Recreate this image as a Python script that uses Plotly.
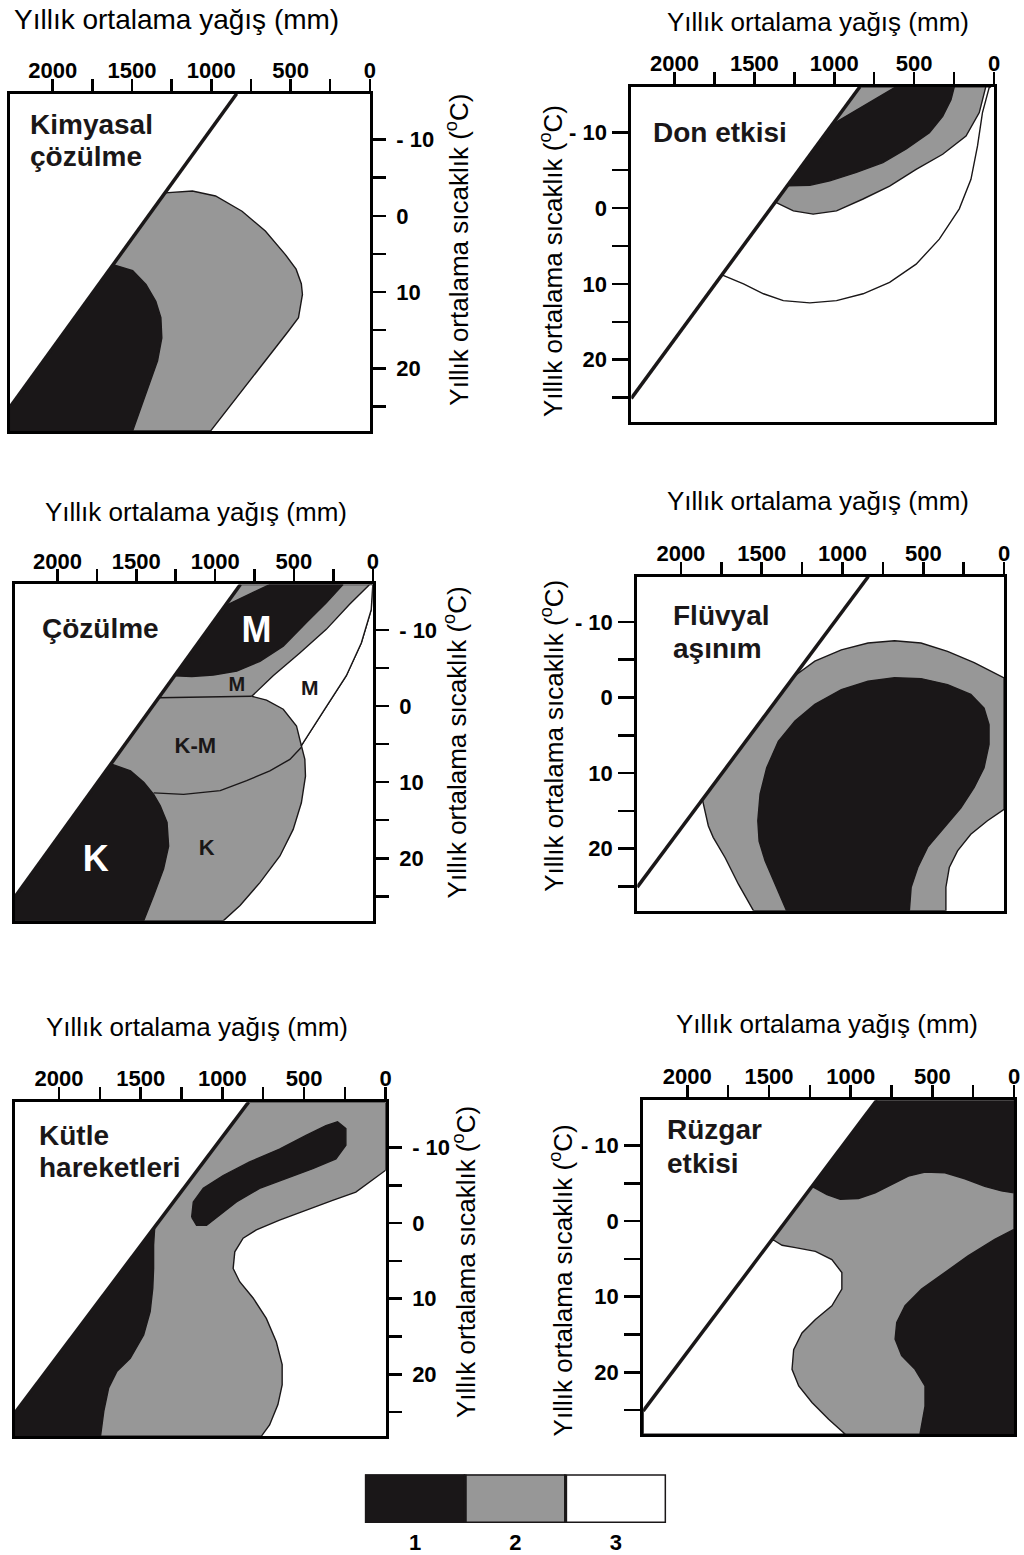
import plotly.graph_objects as go

W, H = 1024, 1555
FONT = "Liberation Sans, Arial, Helvetica, sans-serif"
BLACK = "#1a1718"
GRAY = "#979797"
WHITE = "#ffffff"

# ---------------- axes / ticks ----------------
X_RANGE = [2270, 0]
Y_RANGE = [28.2, -16]
PRECIP_TICKS = [2000, 1500, 1000, 500, 0]
PRECIP_LABELS = ["2000", "1500", "1000", "500", "0"]
PRECIP_MINOR = [1750, 1250, 750, 250]
TEMP_TICKS = [-10, 0, 10, 20]
TEMP_LABELS = ["- 10", "0", "10", "20"]
TEMP_MINOR = [-5, 5, 15, 25]
X_TITLE = "Yıllık ortalama yağış (mm)"
Y_TITLE = "Yıllık ortalama sıcaklık (<sup>o</sup>C)"

# climatic limit line (precipitation mm, temperature C)
LIMIT_PRECIP = [840, 2270]
LIMIT_TEMP = [-16, 25.1]

# ---------------- panel 1: Kimyasal çözülme ----------------
P1_GRAY_P = [1292, 2270, 2270, 1004, 513, 450, 425, 432, 465, 534, 659, 806, 973, 1119, 1292]
P1_GRAY_T = [-3.0, 25.1, 28.2, 28.2, 15.1, 13.35, 10.3, 8.9, 7.0, 5.05, 2.0, -0.6, -2.6, -3.25, -3.0]
P1_BLACK_P = [1620, 1496, 1412, 1350, 1318, 1312, 1339, 1391, 1454, 1496, 2270, 2270, 1620]
P1_BLACK_T = [6.4, 7.2, 9.0, 11.2, 13.35, 16.0, 19.0, 22.1, 25.6, 28.2, 28.2, 25.1, 6.4]

# ---------------- panel 2: Don etkisi ----------------
P2_WHITE_P = [1703, 1568, 1443, 1319, 1153, 986, 820, 654, 488, 343, 218, 145, 104, 73, 31, 20, 840, 1703]
P2_WHITE_T = [8.8, 10.0, 11.3, 12.2, 12.5, 12.2, 11.3, 9.8, 7.4, 4.1, 0.1, -3.8, -8.2, -12.6, -15.9, -16, -16, 8.8]
P2_GRAY_P = [1369, 1256, 1132, 986, 820, 654, 488, 322, 176, 93, 52, 840, 1369]
P2_GRAY_T = [-0.8, 0.36, 0.8, 0.36, -1.2, -2.9, -5.1, -7.1, -9.5, -12.6, -16, -16, -0.8]
P2_BLACK_P = [1012, 613, 249, 270, 322, 405, 550, 696, 862, 1028, 1153, 1295, 1012]
P2_BLACK_T = [-11.05, -16, -16, -14.3, -12.1, -9.95, -7.8, -6.0, -4.7, -3.6, -3.0, -2.93, -11.05]

# ---------------- panel 3: Çözülme ----------------
P3_GRAY_P = [840, 2270, 2270, 947, 842, 716, 589, 505, 453, 427, 431, 453, 442, 305, 168, 73, 10, 0, 840]
P3_GRAY_T = [-16, 25.1, 28.2, 28.2, 26.2, 23.2, 19.7, 16.2, 12.7, 9.2, 7.0, 5.2, 4.8, 0.4, -4.0, -8.3, -12.7, -16, -16]
P3_WHITE_P = [768, 632, 463, 295, 147, 20, 0, 10, 73, 168, 305, 442, 453, 484, 568, 674, 768]
P3_WHITE_T = [-1.3, -4.0, -7.0, -10.1, -13.4, -16, -16, -12.7, -8.3, -4.0, 0.4, 4.8, 5.2, 2.6, 0.4, -0.8, -1.3]
P3_BLACKM_P = [937, 653, 189, 295, 421, 568, 716, 863, 1011, 1148, 1258, 937]
P3_BLACKM_T = [-13.2, -16, -16, -13.6, -11.0, -7.9, -5.9, -4.6, -4.1, -3.9, -4.0, -13.2]
P3_BLACKK_P = [1661, 1537, 1453, 1390, 1348, 1305, 1295, 1327, 1390, 1453, 2270, 2270, 1661]
P3_BLACKK_T = [7.6, 8.5, 10.0, 11.6, 13.1, 15.3, 18.4, 21.4, 24.9, 28.2, 28.2, 25.1, 7.6]
P3_SEP1_P = [1359, 1053, 768]
P3_SEP1_T = [-1.1, -1.25, -1.3]
P3_SEP2_P = [1390, 1200, 968, 800, 653, 526, 453]
P3_SEP2_T = [11.4, 11.6, 11.1, 9.8, 8.5, 7.0, 5.4]
P3_LABELS = ["M", "M", "M", "K-M", "K", "K"]
P3_LABEL_P = [737, 863, 400, 1126, 1053, 1758]
P3_LABEL_T = [-9.65, -2.65, -2.2, 5.4, 18.8, 20.5]
P3_LABEL_COLOR = ["white", BLACK, BLACK, BLACK, BLACK, "white"]
P3_LABEL_SIZE = [36, 20, 21, 22, 22, 36]

# ---------------- panel 4: Flüvyal aşınım ----------------
P4_GRAY_P = [1299, 1171, 1007, 842, 678, 514, 350, 185, 0, 0, 103, 206, 288, 339, 360, 360,
             1551, 1644, 1726, 1800, 1830, 1850, 1867, 1299]
P4_GRAY_T = [-2.8, -4.8, -6.3, -7.2, -7.5, -7.2, -6.1, -4.6, -2.6, 14.8, 16.3, 18.1, 20.3, 22.5, 25.1, 28.2,
             28.2, 24.7, 21.2, 18.5, 17.0, 15.2, 13.5, -2.8]
P4_BLACK_P = [1346, 1418, 1479, 1516, 1524, 1510, 1469, 1397, 1294, 1171, 1007, 842, 678, 514, 350, 206,
              124, 93, 93, 124, 185, 267, 370, 473, 534, 575, 586, 1346]
P4_BLACK_T = [28.2, 24.7, 21.6, 19.0, 16.3, 12.8, 9.3, 5.8, 3.1, 0.9, -1.05, -2.15, -2.6, -2.5, -1.7, -0.4,
              1.4, 3.6, 6.2, 9.3, 11.9, 14.6, 17.2, 19.8, 22.5, 25.1, 28.2, 28.2]

# ---------------- panel 5: Kütle hareketleri ----------------
P5_GRAY_P = [840, 0, 0, 82, 183, 325, 488, 650, 792, 873, 924, 934, 894, 812, 731, 670, 634, 634,
             660, 711, 762, 2270, 2270, 840]
P5_GRAY_T = [-16, -16, -7.0, -5.7, -4.1, -3.0, -1.7, -0.4, 0.9, 2.0, 3.8, 6.0, 7.75, 9.9, 12.6, 15.7, 18.7, 21.4,
             24.0, 26.7, 28.2, 28.2, 25.1, -16]
P5_BLACK_P = [1414, 1421, 1421, 1426, 1442, 1482, 1564, 1645, 1696, 1726, 1746, 2270, 2270, 1414]
P5_BLACK_T = [0.5, 2.9, 6.0, 8.6, 11.7, 14.8, 17.9, 19.6, 21.8, 24.9, 28.2, 28.2, 25.1, 0.5]
P5_BLOB_P = [1188, 1178, 1117, 995, 833, 650, 488, 366, 295, 244, 244, 305, 447, 609, 772, 914, 1015,
             1097, 1158, 1188]
P5_BLOB_T = [-0.8, -2.8, -4.6, -6.3, -8.1, -9.8, -11.6, -12.9, -13.4, -12.5, -10.3, -8.5, -7.2, -5.9, -4.6,
             -2.8, -1.05, 0.3, 0.3, -0.8]

# ---------------- panel 6: Rüzgar etkisi ----------------
P6_BLACK_P = [840, 0, 0, 2270, 2270, 840]
P6_BLACK_T = [-16, -16, 28.2, 28.2, 25.1, -16]
P6_GRAY_P = [1237, 1145, 1064, 952, 850, 749, 647, 545, 423, 301, 179, 77, 0, 0, 118, 281, 423, 566, 667,
             718, 728, 688, 606, 545, 545, 570, 576, 2270, 2270, 1237]
P6_GRAY_T = [-4.6, -3.5, -2.9, -3.0, -3.75, -4.85, -5.95, -6.5, -6.4, -5.6, -4.6, -4.0, -3.75, 1.1, 2.4, 4.6,
             6.8, 9.0, 11.2, 13.4, 15.6, 17.8, 19.6, 21.8, 24.5, 27.1, 28.2, 28.2, 25.1, -4.6]
P6_WHITE_P = [1480, 1420, 1338, 1216, 1115, 1054, 1054, 1115, 1216, 1298, 1349, 1359, 1318, 1237, 1135,
              1033, 2270, 2270, 1480]
P6_WHITE_T = [2.4, 3.2, 3.5, 4.0, 5.1, 6.8, 9.0, 11.2, 13.0, 14.8, 17.0, 19.6, 21.8, 24.0, 26.2,
              28.2, 28.2, 25.1, 2.4]

# ---------------- legend ----------------
LEGEND_CLASSES = ["1", "2", "3"]
LEGEND_VALUES = [1, 1, 1]
LEGEND_COLORS = [BLACK, GRAY, WHITE]

PANELS = {
    1: dict(fills=[(P1_GRAY_P, P1_GRAY_T, GRAY), (P1_BLACK_P, P1_BLACK_T, BLACK)], lines=[]),
    2: dict(fills=[(P2_WHITE_P, P2_WHITE_T, WHITE), (P2_GRAY_P, P2_GRAY_T, GRAY),
                   (P2_BLACK_P, P2_BLACK_T, BLACK)], lines=[]),
    3: dict(fills=[(P3_GRAY_P, P3_GRAY_T, GRAY), (P3_WHITE_P, P3_WHITE_T, WHITE),
                   (P3_BLACKM_P, P3_BLACKM_T, BLACK), (P3_BLACKK_P, P3_BLACKK_T, BLACK)],
            lines=[(P3_SEP1_P, P3_SEP1_T), (P3_SEP2_P, P3_SEP2_T)]),
    4: dict(fills=[(P4_GRAY_P, P4_GRAY_T, GRAY), (P4_BLACK_P, P4_BLACK_T, BLACK)], lines=[]),
    5: dict(fills=[(P5_GRAY_P, P5_GRAY_T, GRAY), (P5_BLACK_P, P5_BLACK_T, BLACK),
                   (P5_BLOB_P, P5_BLOB_T, BLACK)], lines=[]),
    6: dict(fills=[(P6_BLACK_P, P6_BLACK_T, BLACK), (P6_GRAY_P, P6_GRAY_T, GRAY),
                   (P6_WHITE_P, P6_WHITE_T, WHITE)], lines=[]),
}

# layout positions (pixels): left, top, right, bottom of each frame
BOX = {1: (10, 94, 372, 432), 2: (635, 87, 1000, 423), 3: (15, 586, 375, 923),
       4: (641, 578, 1010, 913), 5: (15, 1105, 388, 1440), 6: (647, 1103, 1020, 1438)}
XTITLE_POS = {1: (178, 20), 2: (823, 22), 3: (197, 513), 4: (823, 502), 5: (198, 1030), 6: (832, 1027)}
XTITLE_SIZE = {1: 28, 2: 26, 3: 26, 4: 26, 5: 26, 6: 26}
YTITLE_POS = {1: (460, 250), 2: (555, 262), 3: (458, 744), 4: (555, 738), 5: (468, 1265), 6: (565, 1284)}
PANEL_TEXT = {1: [("Kimyasal", 28, 125), ("çözülme", 28, 157)],
              2: [("Don etkisi", 655, 133)],
              3: [("Çözülme", 40, 630)],
              4: [("Flüvyal", 675, 617), ("aşınım", 675, 650)],
              5: [("Kütle", 37, 1138), ("hareketleri", 37, 1171)],
              6: [("Rüzgar", 669, 1132), ("etkisi", 669, 1166)]}

fig = go.Figure()
layout = dict(width=W, height=H, autosize=False, margin=dict(l=0, r=0, t=0, b=0, pad=0),
              paper_bgcolor="white", plot_bgcolor="white", showlegend=False, bargap=0,
              font=dict(family=FONT, color="black"))
annotations = []

for i in range(1, 7):
    sfx = "" if i == 1 else str(i)
    xr, yr = "x" + sfx, "y" + sfx
    for px, tx, col in PANELS[i]["fills"]:
        fig.add_trace(go.Scatter(x=px, y=tx, mode="lines", fill="toself", fillcolor=col,
                                 line=dict(color=BLACK, width=1.4), hoverinfo="skip",
                                 xaxis=xr, yaxis=yr))
    for px, tx in PANELS[i]["lines"]:
        fig.add_trace(go.Scatter(x=px, y=tx, mode="lines", line=dict(color=BLACK, width=1.4),
                                 hoverinfo="skip", xaxis=xr, yaxis=yr))
    fig.add_trace(go.Scatter(x=LIMIT_PRECIP, y=LIMIT_TEMP, mode="lines",
                             line=dict(color=BLACK, width=3.5), hoverinfo="skip", xaxis=xr, yaxis=yr))
    if i == 3:
        for lab, lp, lt, lc, ls in zip(P3_LABELS, P3_LABEL_P, P3_LABEL_T, P3_LABEL_COLOR, P3_LABEL_SIZE):
            fig.add_trace(go.Scatter(x=[lp], y=[lt], mode="text", text=[lab],
                                     textfont=dict(family=FONT, size=ls, color=lc, weight="bold"),
                                     hoverinfo="skip", xaxis=xr, yaxis=yr))

    L, T, R, B = BOX[i]
    yside = "right" if i % 2 == 1 else "left"
    ylen = 13 if yside == "right" else 16
    layout["xaxis" + sfx] = dict(
        domain=[L / W, R / W], range=X_RANGE, side="top", anchor=yr,
        tickmode="array", tickvals=PRECIP_TICKS, ticktext=PRECIP_LABELS,
        ticks="outside", ticklen=12, tickwidth=2.5, tickcolor="black",
        minor=dict(tickmode="array", tickvals=PRECIP_MINOR, ticks="outside", ticklen=12,
                   tickwidth=2.5, tickcolor="black", showgrid=False),
        showline=True, linewidth=3, linecolor="black", mirror=True,
        showgrid=False, zeroline=False, fixedrange=True, ticklabelstandoff=-8,
        tickfont=dict(family=FONT, size=22, color="black", weight="bold"))
    layout["yaxis" + sfx] = dict(
        domain=[1 - B / H, 1 - T / H], range=Y_RANGE, side=yside, anchor=xr,
        tickmode="array", tickvals=TEMP_TICKS, ticktext=TEMP_LABELS,
        ticks="outside", ticklen=ylen, tickwidth=2.5, tickcolor="black",
        minor=dict(tickmode="array", tickvals=TEMP_MINOR, ticks="outside", ticklen=ylen,
                   tickwidth=2.5, tickcolor="black", showgrid=False),
        showline=True, linewidth=3, linecolor="black", mirror=True,
        showgrid=False, zeroline=False, fixedrange=True,
        ticklabelstandoff=6 if yside == "right" else 1,
        tickfont=dict(family=FONT, size=22, color="black", weight="bold"))

    xtx, xty = XTITLE_POS[i]
    annotations.append(dict(text=X_TITLE, x=xtx / W, y=1 - xty / H, xref="paper", yref="paper",
                            showarrow=False, xanchor="center", yanchor="middle",
                            font=dict(family=FONT, size=XTITLE_SIZE[i], color="black")))
    ytx, yty = YTITLE_POS[i]
    annotations.append(dict(text=Y_TITLE, x=ytx / W, y=1 - yty / H, xref="paper", yref="paper",
                            showarrow=False, xanchor="center", yanchor="middle", textangle=-90,
                            font=dict(family=FONT, size=26, color="black")))
    for txt, tx0, ty0 in PANEL_TEXT[i]:
        annotations.append(dict(text=txt, x=tx0 / W, y=1 - ty0 / H, xref="paper", yref="paper",
                                showarrow=False, xanchor="left", yanchor="middle",
                                font=dict(family=FONT, size=28, color=BLACK, weight="bold")))

# legend strip
fig.add_trace(go.Bar(x=LEGEND_CLASSES, y=LEGEND_VALUES, width=1,
                     marker=dict(color=LEGEND_COLORS, line=dict(color=BLACK, width=3)),
                     hoverinfo="skip", xaxis="x7", yaxis="y7"))
layout["xaxis7"] = dict(domain=[367 / W, 670 / W], anchor="y7", type="category", side="bottom",
                        showline=False, ticks="", showgrid=False, zeroline=False, fixedrange=True,
                        ticklabelstandoff=4,
                        tickfont=dict(family=FONT, size=22, color="black", weight="bold"))
layout["yaxis7"] = dict(domain=[1 - 1527 / H, 1 - 1478 / H], anchor="x7", range=[0, 1],
                        visible=False, fixedrange=True)

layout["annotations"] = annotations
fig.update_layout(**layout)
fig.write_html("out.html", config={"displayModeBar": False, "staticPlot": True},
               post_script="document.body.style.margin='0px';document.body.style.padding='0px';"
                           "document.body.style.overflow='hidden';"
                           "document.documentElement.style.overflow='hidden';")
